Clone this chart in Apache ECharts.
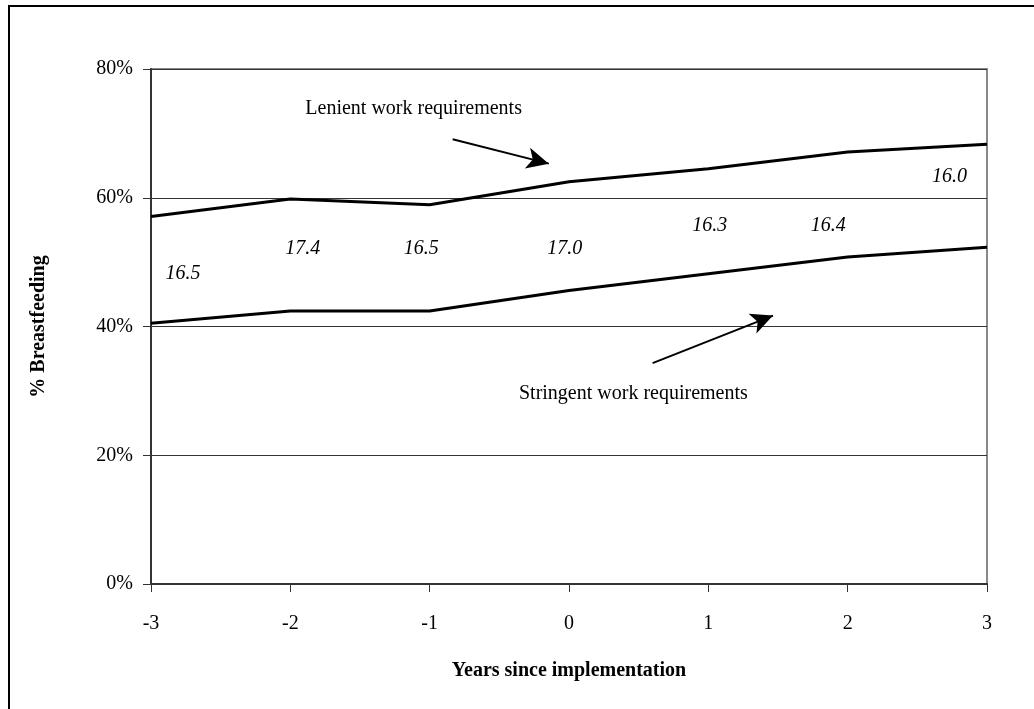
<!DOCTYPE html>
<html>
<head>
<meta charset="utf-8">
<script src="https://cdn.jsdelivr.net/npm/echarts@6/dist/echarts.min.js"></script>
<style>
    html, body { margin: 0; padding: 0; background: #fff; }
    #frame { position: absolute; left: 8px; top: 5px; width: 1040px; height: 720px; border: 2px solid #000; box-sizing: border-box; }
    #chart { position: absolute; left: 0; top: 0; width: 1034px; height: 709px; }
</style>
</head>
<body>
<div id="frame"></div>
<div id="chart"></div>
<script>
// Data
var years = [-3, -2, -1, 0, 1, 2, 3];
var lenient = [57.1, 59.8, 58.9, 62.5, 64.5, 67.1, 68.3];
var stringent = [40.5, 42.4, 42.4, 45.6, 48.2, 50.8, 52.3];
var yTicks = [0, 20, 40, 60, 80];

// italic numbers written across the plot, with the spot they sit at
var noteValues = ['16.5', '17.4', '16.5', '17.0', '16.3', '16.4', '16.0'];
var noteX = [-2.77, -1.91, -1.06, -0.03, 1.01, 1.86, 2.73];
var noteY = [48.2, 52.1, 52.1, 52.1, 55.7, 55.7, 63.3];

window.onload = init;

function init() {
    var chart = echarts.init(document.getElementById('chart'), null, { renderer: 'canvas' });
    var font = '"Liberation Serif", "Times New Roman", serif';

    function pairs(ys) {
        return years.map(function (x, i) { return [x, ys[i]]; });
    }

    var notes = noteValues.map(function (v, i) { return [noteX[i], noteY[i], v]; });

    var option = {
        animation: false,
        backgroundColor: 'transparent',
        grid: {
            left: 151, right: 47, top: 69, bottom: 125,
            show: true, borderColor: '#888', borderWidth: 2
        },
        xAxis: {
            type: 'value', min: -3, max: 3, interval: 1,
            name: 'Years since implementation',
            nameLocation: 'middle', nameGap: 77,
            nameTextStyle: { fontFamily: font, fontWeight: 'bold', fontSize: 20, color: '#000' },
            axisLine: { onZero: false, lineStyle: { color: '#333', width: 2 } },
            axisTick: { show: true, length: 8, lineStyle: { color: '#333', width: 1 } },
            axisLabel: { fontFamily: font, fontSize: 20, color: '#000', margin: 30 },
            splitLine: { show: false }
        },
        yAxis: {
            type: 'value', min: yTicks[0], max: yTicks[yTicks.length - 1], interval: 20,
            name: '% Breastfeeding',
            nameLocation: 'middle', nameGap: 102, nameRotate: 90,
            nameTextStyle: { fontFamily: font, fontWeight: 'bold', fontSize: 20, color: '#000' },
            axisLine: { show: true, onZero: false, lineStyle: { color: '#333', width: 2 } },
            axisTick: { show: true, length: 8, lineStyle: { color: '#333', width: 1 } },
            axisLabel: { fontFamily: font, fontSize: 20, color: '#000', margin: 18, formatter: '{value}%' },
            splitLine: { show: true, lineStyle: { color: '#333', width: 1 } }
        },
        series: [
            {
                name: 'Lenient', type: 'line', data: pairs(lenient),
                symbol: 'none', lineStyle: { color: '#000', width: 3 },
                markLine: {
                    silent: true, symbol: ['none', 'arrow'], symbolSize: [16, 22],
                    label: { show: false },
                    lineStyle: { color: '#000', width: 2, type: 'solid' },
                    data: [[{ coord: [-0.835, 69.1] }, { coord: [-0.145, 65.3] }]]
                }
            },
            {
                name: 'Stringent', type: 'line', data: pairs(stringent),
                symbol: 'none', lineStyle: { color: '#000', width: 3 },
                markLine: {
                    silent: true, symbol: ['none', 'arrow'], symbolSize: [16, 22],
                    label: { show: false },
                    lineStyle: { color: '#000', width: 2, type: 'solid' },
                    data: [[{ coord: [0.60, 34.3] }, { coord: [1.464, 41.7] }]]
                }
            },
            {
                name: 'notes', type: 'scatter', data: notes,
                symbolSize: 0, itemStyle: { opacity: 1, color: '#000' },
                label: {
                    show: true, position: 'inside',
                    formatter: function (p) { return p.value[2]; },
                    fontFamily: font, fontStyle: 'italic', fontSize: 20, color: '#000'
                }
            },
            {
                name: 'captions', type: 'scatter',
                data: [[-1.115, 73.9, 'Lenient work requirements'], [0.462, 29.6, 'Stringent work requirements']],
                symbolSize: 0, itemStyle: { opacity: 1, color: '#000' },
                label: {
                    show: true, position: 'inside',
                    formatter: function (p) { return p.value[2]; },
                    fontFamily: font, fontSize: 20, color: '#000'
                }
            }
        ]
    };

    chart.setOption(option);
}
</script>
</body>
</html>
